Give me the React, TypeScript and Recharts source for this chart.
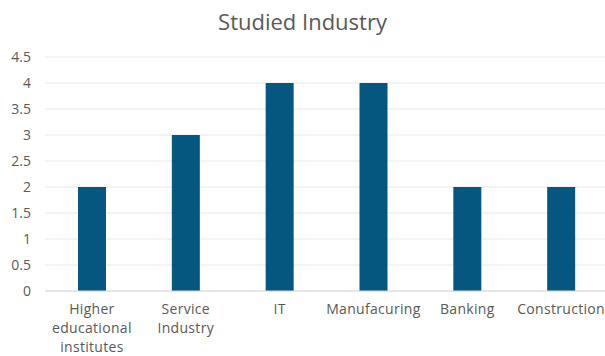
import React from 'react'
import { BarChart, Bar, XAxis, YAxis, CartesianGrid } from 'recharts'

const categories = [
  'Higher educational institutes',
  'Service Industry',
  'IT',
  'Manufacuring',
  'Banking',
  'Construction',
]
const counts = [2, 3, 4, 4, 2, 2]
const yTicks = [0, 0.5, 1, 1.5, 2, 2.5, 3, 3.5, 4, 4.5]

const data = categories.map((name, i) => ({ name, value: counts[i] }))

const FONT = "'Open Sans', 'Noto Sans', sans-serif"
const GREY = '#595959'

// split label into lines of at most ~12 chars
const wrap = (s: string, max = 12) => {
  const lines: string[] = []
  let cur = ''
  s.split(' ').forEach((w) => {
    if (cur && (cur + ' ' + w).length > max) {
      lines.push(cur)
      cur = w
    } else {
      cur = cur ? cur + ' ' + w : w
    }
  })
  if (cur) lines.push(cur)
  return lines
}

const XTick = (props: any) => {
  const { x, y, payload } = props
  const lines = wrap(payload.value)
  return (
    <text x={x} y={y} textAnchor="middle" fill={GREY} fontSize={14} fontFamily={FONT} letterSpacing={0.3}>
      {lines.map((l, i) => (
        <tspan key={i} x={x} dy={i === 0 ? 15 : 19}>
          {l}
        </tspan>
      ))}
    </text>
  )
}

export default function App() {
  return (
    <div style={{ position: 'fixed', left: 0, top: 0, width: 605, height: 356, overflow: 'hidden', background: '#fff' }}>
      <div
        style={{
          position: 'absolute',
          top: 6,
          left: 0,
          width: 605,
          textAlign: 'center',
          fontFamily: FONT,
          fontSize: 22,
          color: GREY,
        }}
      >
        Studied Industry
      </div>
      <BarChart
        width={610}
        height={356}
        data={data}
        margin={{ top: 57, right: 2, bottom: 0, left: 0 }}
        barSize={28}
      >
        <CartesianGrid vertical={false} stroke="#e6e6e6" />
        <XAxis
          dataKey="name"
          interval={0}
          tickLine={false}
          axisLine={{ stroke: '#d9d9d9' }}
          height={65}
          tick={<XTick />}
        />
        <YAxis
          domain={[0, 4.5]}
          ticks={yTicks}
          width={45}
          tickLine={false}
          axisLine={false}
          tick={{ fill: GREY, fontSize: 14, fontFamily: FONT }}
          tickMargin={8}
        />
        <Bar dataKey="value" fill="#05577F" isAnimationActive={false} />
      </BarChart>
    </div>
  )
}
